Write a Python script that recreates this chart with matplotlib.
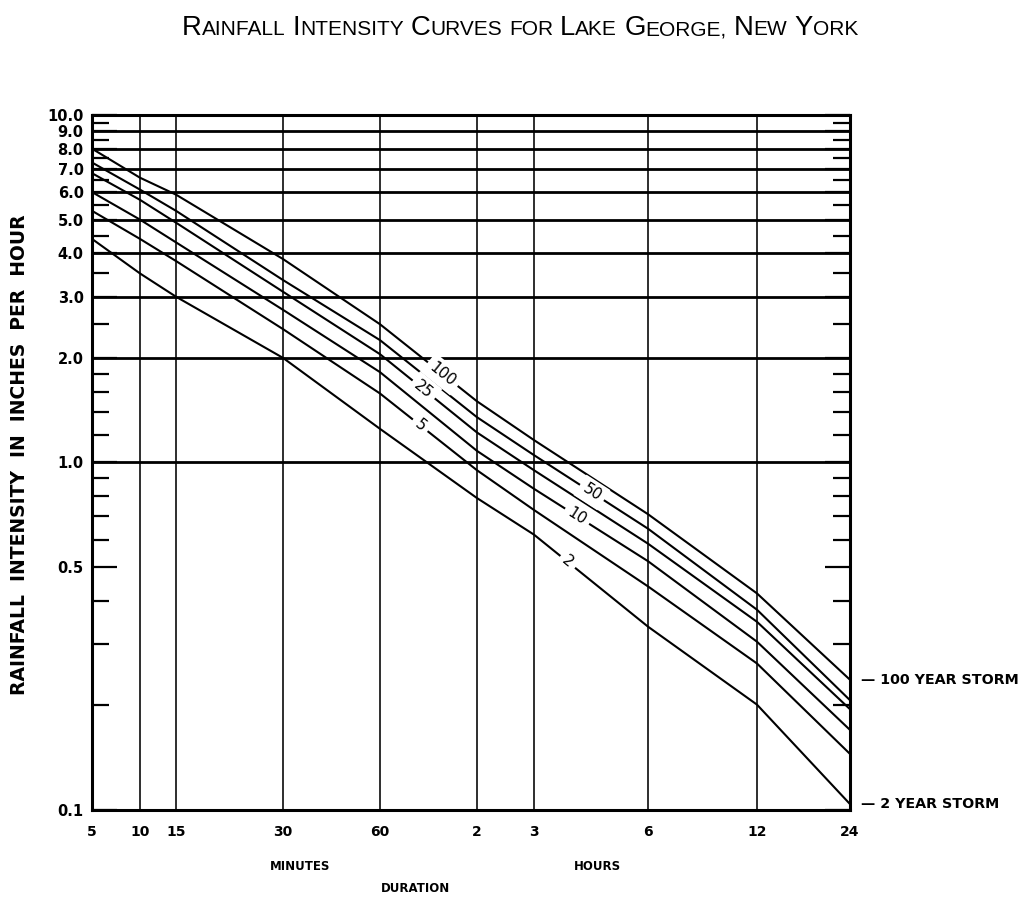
import numpy as np
import matplotlib
matplotlib.use("Agg")
import matplotlib.pyplot as plt
from matplotlib.ticker import FixedLocator, FixedFormatter, NullFormatter

# ---------------- data ----------------
durations = [5, 10, 15, 30, 60, 120, 180, 360, 720, 1440]          # minutes
duration_labels = ["5", "10", "15", "30", "60", "2", "3", "6", "12", "24"]

yr100 = [8.0, 6.6, 5.9, 3.85, 2.50, 1.50, 1.16, 0.71, 0.42, 0.237]
yr50  = [7.3, 6.1, 5.3, 3.35, 2.25, 1.35, 1.05, 0.645, 0.377, 0.207]
yr25  = [6.8, 5.7, 4.9, 3.10, 2.05, 1.22, 0.95, 0.584, 0.348, 0.195]
yr10  = [6.0, 5.0, 4.3, 2.75, 1.82, 1.08, 0.84, 0.52, 0.305, 0.170]
yr5   = [5.3, 4.4, 3.8, 2.42, 1.58, 0.95, 0.73, 0.44, 0.264, 0.145]
yr2   = [4.4, 3.5, 3.0, 2.00, 1.25, 0.79, 0.62, 0.337, 0.201, 0.104]

series = {"100": yr100, "50": yr50, "25": yr25, "10": yr10, "5": yr5, "2": yr2}
label_minutes = {"100": 94, "25": 82, "5": 80, "50": 256, "10": 234, "2": 221}

ytick_vals = [0.1, 0.5, 1, 2, 3, 4, 5, 6, 7, 8, 9, 10]
ytick_labels = ["0.1", "0.5", "1.0", "2.0", "3.0", "4.0", "5.0", "6.0", "7.0", "8.0", "9.0", "10.0"]
ygrid_vals = [1, 2, 3, 4, 5, 6, 7, 8, 9, 10]
yminor_vals = [0.2, 0.3, 0.4, 0.6, 0.7, 0.8, 0.9, 1.2, 1.4, 1.6, 1.8,
               2.5, 3.5, 4.5, 5.5, 6.5, 7.5, 8.5, 9.5]

# relative position of each duration along the (non-logarithmic) printed axis
axis_frac = [0.0, 0.0633, 0.1108, 0.2520, 0.3799, 0.5079, 0.5831, 0.7335, 0.8773, 1.0]
logd = np.log10(durations)


def fwd(x):
    x = np.asarray(x, dtype=float)
    lx = np.log10(np.clip(x, 1e-6, None))
    return np.interp(lx, logd, axis_frac)


def inv(f):
    f = np.asarray(f, dtype=float)
    return 10 ** np.interp(f, axis_frac, logd)


W, H = 1035, 902
fig = plt.figure(figsize=(W / 100, H / 100), dpi=100)
ax = fig.add_axes([92 / W, 1 - 810 / H, (850 - 92) / W, (810 - 115) / H])

ax.set_xscale("function", functions=(fwd, inv))
ax.set_yscale("log")
ax.set_xlim(5, 1440)
ax.set_ylim(0.1, 10)

lab_font = dict(family="DejaVu Sans", fontweight="bold")

# ticks
ax.xaxis.set_major_locator(FixedLocator(durations))
ax.xaxis.set_major_formatter(FixedFormatter(duration_labels))
ax.xaxis.set_minor_locator(FixedLocator([]))
ax.tick_params(axis="x", which="major", length=0, pad=11, labelsize=10)
for t in ax.get_xticklabels():
    t.set_fontweight("bold")

ax.yaxis.set_major_locator(FixedLocator(ytick_vals))
ax.yaxis.set_major_formatter(FixedFormatter(ytick_labels))
ax.yaxis.set_minor_locator(FixedLocator(yminor_vals))
ax.yaxis.set_minor_formatter(NullFormatter())
ax.tick_params(axis="y", which="major", direction="in", length=18, width=1.6,
               left=True, right=True, pad=6, labelsize=10.5)
ax.tick_params(axis="y", which="minor", direction="in", length=12, width=1.6,
               left=True, right=True)
for t in ax.get_yticklabels():
    t.set_fontweight("bold")

for s in ax.spines.values():
    s.set_linewidth(2.2)
    s.set_color("black")

# grid
ax.grid(axis="x", which="major", color="black", lw=1.15)
for g in ygrid_vals:
    ax.axhline(g, color="black", lw=2.0, zorder=2)

# curves
for name, vals in series.items():
    ax.plot(durations, vals, color="black", lw=1.5, zorder=3)

# inline curve labels (white box gives the gap in the curve)
fig.canvas.draw()
for name, xm in label_minutes.items():
    vals = series[name]
    pts = ax.transData.transform(np.column_stack([durations, vals]))
    px = ax.transData.transform([[xm, 1]])[0, 0]
    py = np.interp(px, pts[:, 0], pts[:, 1])
    i = np.searchsorted(pts[:, 0], px)
    dx = pts[i, 0] - pts[i - 1, 0]
    dy = pts[i, 1] - pts[i - 1, 1]
    ang = np.degrees(np.arctan2(dy, dx))
    xd, yd = ax.transData.inverted().transform([[px, py]])[0]
    ax.text(xd, yd, name, rotation=ang, rotation_mode="anchor", ha="center",
            va="center", fontsize=11, family="DejaVu Sans", zorder=5,
            bbox=dict(boxstyle="square,pad=0.3", fc="white", ec="none"))

# right side storm labels
ax.annotate("\u2014 100 YEAR STORM", xy=(1440, yr100[-1]), xytext=(8, 0),
            textcoords="offset points", va="center", ha="left", fontsize=10.3,
            annotation_clip=False, **lab_font)
ax.annotate("\u2014 2 YEAR STORM", xy=(1440, yr2[-1]), xytext=(8, 0),
            textcoords="offset points", va="center", ha="left", fontsize=10.3,
            annotation_clip=False, **lab_font)

# axis texts
fig.text(20 / W, 1 - 455 / H, "RAINFALL  INTENSITY  IN  INCHES  PER  HOUR",
         rotation=90, ha="center", va="center", fontsize=13.5, **lab_font)
fig.text(300 / W, 1 - 866 / H, "MINUTES", ha="center", va="center", fontsize=8.5, **lab_font)
fig.text(597 / W, 1 - 866 / H, "HOURS", ha="center", va="center", fontsize=8.5, **lab_font)
fig.text(415 / W, 1 - 888 / H, "DURATION", ha="center", va="center", fontsize=8.5, **lab_font)

# small-caps title
words = ["Rainfall", "Intensity", "Curves", "for", "Lake", "George,", "New", "York"]
big, small = 19.8, 15
pieces = []
for w in words:
    if w[0].isupper():
        pieces.append((w[0], big))
        pieces.append((w[1:].upper(), small))
    else:
        pieces.append((w.upper(), small))
    pieces.append((None, None))
pieces = pieces[:-1]
renderer = fig.canvas.get_renderer()
arts = []
space = 7
for txt, size in pieces:
    if txt is None:
        arts.append(None)
        continue
    t = fig.text(0, 1 - 35 / H, txt, fontsize=size, family="Liberation Sans",
                 va="baseline", ha="left")
    arts.append(t)
widths = [space if a is None else a.get_window_extent(renderer).width for a in arts]
total = sum(widths)
x = 520 - total / 2
for a, wdt in zip(arts, widths):
    if a is not None:
        a.set_x(x / W)
    x += wdt

fig.savefig("out.png", dpi=100)
